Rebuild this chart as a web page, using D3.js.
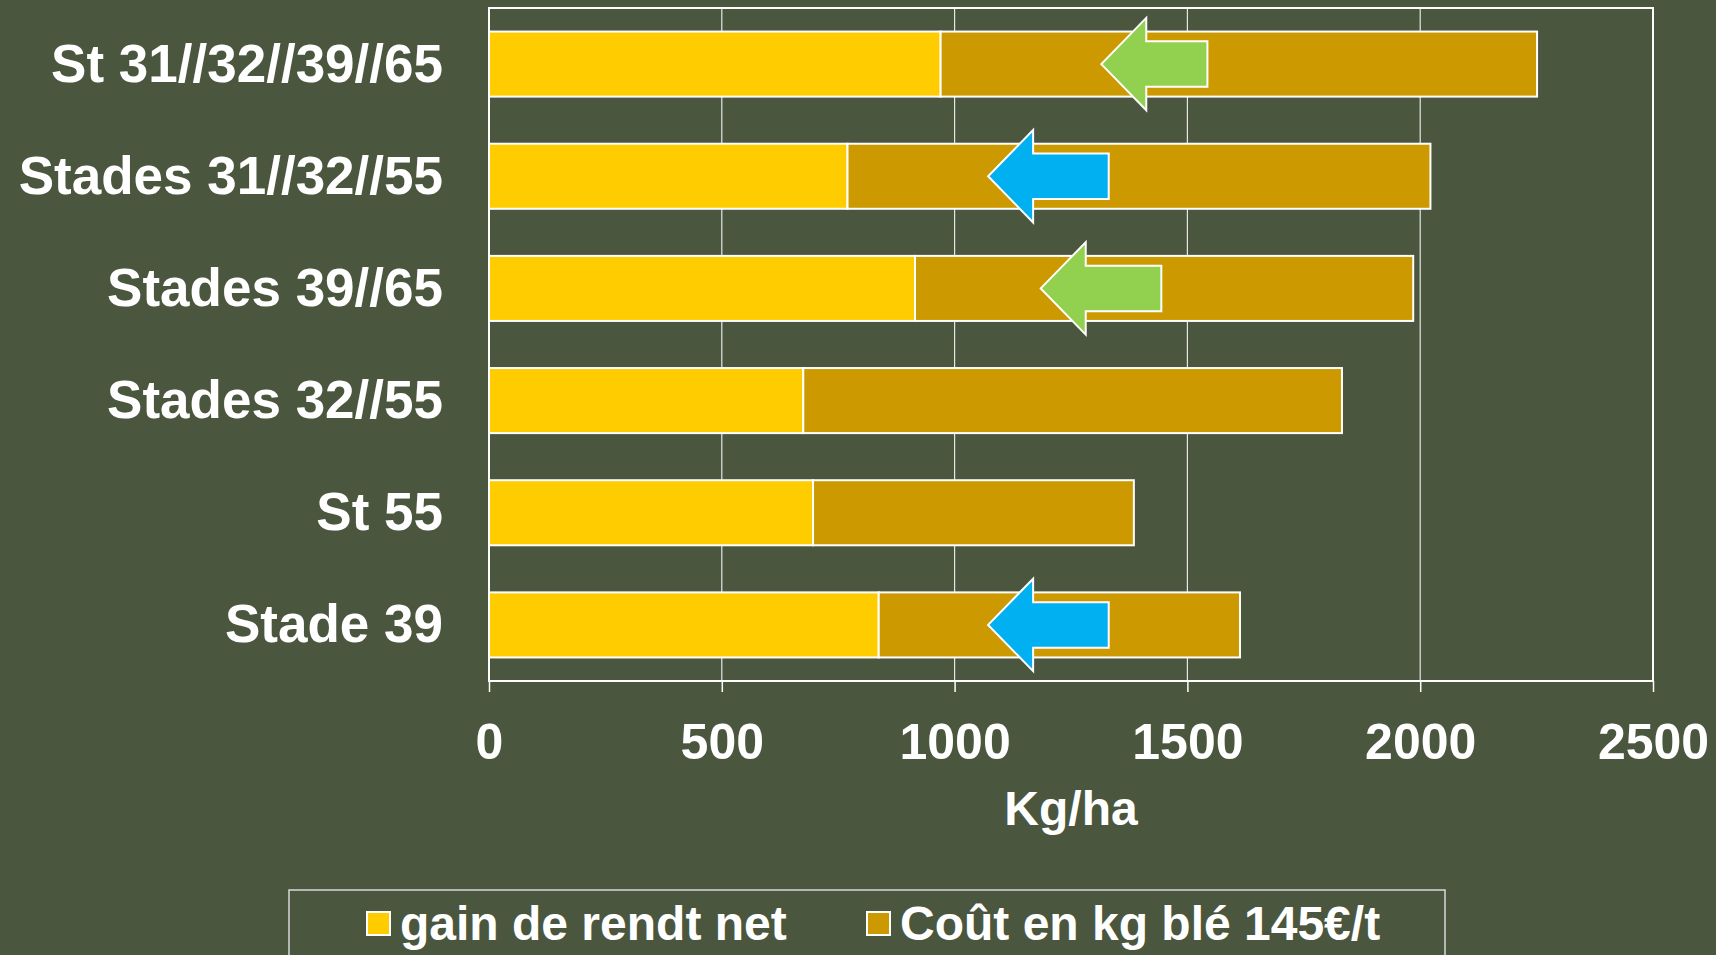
<!DOCTYPE html>
<html>
<head>
<meta charset="utf-8">
<script src="https://cdnjs.cloudflare.com/ajax/libs/d3/7.8.5/d3.min.js"></script>
<style>
  html, body { margin: 0; padding: 0; background: #4B563E; overflow: hidden; }
  text { font-family: "Liberation Sans", Arial, sans-serif; font-weight: bold; fill: #ffffff; }
</style>
</head>
<body>
<div id="chart"></div>
<script>
// data (kg/ha)
var categories = ["St 31//32//39//65", "Stades 31//32//55", "Stades 39//65", "Stades 32//55", "St 55", "Stade 39"];
var gainNet = [970, 770, 915, 675, 696, 837];
var coutBle = [1281, 1252, 1070, 1157, 689, 776];
var seriesNames = ["gain de rendt net", "Coût en kg blé 145€/t"];
var xTicks = [0, 500, 1000, 1500, 2000, 2500];
var axisTitle = "Kg/ha";

// arrows drawn over the bars
var arrowCats = ["St 31//32//39//65", "Stades 31//32//55", "Stades 39//65", "Stade 39"];
var arrowTips = [1315, 1072, 1185, 1072];
var arrowTails = [1543, 1331, 1444, 1331];
var arrowColors = ["#92D050", "#00B0F0", "#92D050", "#00B0F0"];

var svgWidth = 1716;
var svgHeight = 955;

var margin = { top: 8, right: 63, bottom: 274, left: 489 };
var width = svgWidth - margin.left - margin.right;
var height = svgHeight - margin.top - margin.bottom;

var svg = d3.select("#chart")
  .append("svg")
  .attr("width", svgWidth)
  .attr("height", svgHeight);

svg.append("rect")
  .attr("width", svgWidth)
  .attr("height", svgHeight)
  .attr("fill", "#4B563E");

var chartGroup = svg.append("g")
  .attr("transform", `translate(${margin.left}, ${margin.top})`);

// scales
var xScale = d3.scaleLinear()
  .domain([0, 2500])
  .range([0, width]);

var yScale = d3.scaleBand()
  .domain(categories)
  .range([0, height])
  .paddingInner(0.42)
  .paddingOuter(0.21);

// gridlines
chartGroup.append("g")
  .selectAll("line")
  .data(xTicks.slice(1, -1))
  .enter()
  .append("line")
  .attr("x1", d => xScale(d))
  .attr("x2", d => xScale(d))
  .attr("y1", 0)
  .attr("y2", height)
  .attr("stroke", "#e6e6e6")
  .attr("stroke-width", 1.2);

// x axis
var bottomAxis = d3.axisBottom(xScale)
  .tickValues(xTicks)
  .tickSize(11)
  .tickPadding(31)
  .tickFormat(d3.format("d"));

var xAxisG = chartGroup.append("g")
  .attr("transform", `translate(0, ${height})`)
  .call(bottomAxis);

xAxisG.select(".domain").remove();
xAxisG.selectAll(".tick line")
  .attr("stroke", "#ffffff")
  .attr("stroke-width", 1.5);
xAxisG.selectAll(".tick text")
  .attr("font-size", "50px")
  .attr("font-family", "Liberation Sans, Arial, sans-serif")
  .attr("font-weight", "bold")
  .attr("fill", "#ffffff");

// category labels
chartGroup.selectAll(".catLabel")
  .data(categories)
  .enter()
  .append("text")
  .attr("class", "catLabel")
  .attr("x", -46)
  .attr("y", d => yScale(d) + yScale.bandwidth() / 2)
  .attr("dy", "0.33em")
  .attr("text-anchor", "end")
  .attr("font-size", "53px")
  .text(d => d);

// stacked bars
var rows = categories.map(function(c, i) {
  return { cat: c, gain: gainNet[i], cout: coutBle[i] };
});

chartGroup.selectAll(".gainBar")
  .data(rows)
  .enter()
  .append("rect")
  .attr("class", "gainBar")
  .attr("x", xScale(0))
  .attr("y", d => yScale(d.cat))
  .attr("width", d => xScale(d.gain) - xScale(0))
  .attr("height", yScale.bandwidth())
  .attr("fill", "#FFCC00")
  .attr("stroke", "#ffffff")
  .attr("stroke-width", 2);

chartGroup.selectAll(".coutBar")
  .data(rows)
  .enter()
  .append("rect")
  .attr("class", "coutBar")
  .attr("x", d => xScale(d.gain))
  .attr("y", d => yScale(d.cat))
  .attr("width", d => xScale(d.gain + d.cout) - xScale(d.gain))
  .attr("height", yScale.bandwidth())
  .attr("fill", "#CC9900")
  .attr("stroke", "#ffffff")
  .attr("stroke-width", 2);

// frame around plot area
chartGroup.append("rect")
  .attr("x", 0)
  .attr("y", 0)
  .attr("width", width)
  .attr("height", height)
  .attr("fill", "none")
  .attr("stroke", "#ffffff")
  .attr("stroke-width", 2);

// arrows pointing left
var headLen = 45;
function arrowPath(i) {
  var cy = yScale(arrowCats[i]) + yScale.bandwidth() / 2;
  var bw = yScale.bandwidth();
  var tip = xScale(arrowTips[i]);
  var tail = xScale(arrowTails[i]);
  var base = tip + headLen;
  var hh = bw * 0.71;
  var sh = bw * 0.35;
  return "M" + tip + "," + cy +
    "L" + base + "," + (cy - hh) +
    "L" + base + "," + (cy - sh) +
    "L" + tail + "," + (cy - sh) +
    "L" + tail + "," + (cy + sh) +
    "L" + base + "," + (cy + sh) +
    "L" + base + "," + (cy + hh) + "Z";
}

chartGroup.selectAll(".arrow")
  .data(arrowCats)
  .enter()
  .append("path")
  .attr("class", "arrow")
  .attr("d", (d, i) => arrowPath(i))
  .attr("fill", (d, i) => arrowColors[i])
  .attr("stroke", "#ffffff")
  .attr("stroke-width", 2)
  .attr("stroke-linejoin", "miter");

// axis title
svg.append("text")
  .attr("x", margin.left + width / 2)
  .attr("y", 825)
  .attr("text-anchor", "middle")
  .attr("font-size", "48px")
  .text(axisTitle);

// legend
var legend = svg.append("g");

legend.append("rect")
  .attr("x", 289)
  .attr("y", 890)
  .attr("width", 1156)
  .attr("height", 120)
  .attr("fill", "none")
  .attr("stroke", "#d9d9d9")
  .attr("stroke-width", 1.5);

var legendX = [367, 867];
var legendColors = ["#FFCC00", "#CC9900"];

seriesNames.forEach(function(name, i) {
  legend.append("rect")
    .attr("x", legendX[i])
    .attr("y", 912)
    .attr("width", 23)
    .attr("height", 23)
    .attr("fill", legendColors[i])
    .attr("stroke", "#ffffff")
    .attr("stroke-width", 2);

  legend.append("text")
    .attr("x", legendX[i] + 33)
    .attr("y", 940)
    .attr("font-size", "48px")
    .text(name);
});
</script>
</body>
</html>
